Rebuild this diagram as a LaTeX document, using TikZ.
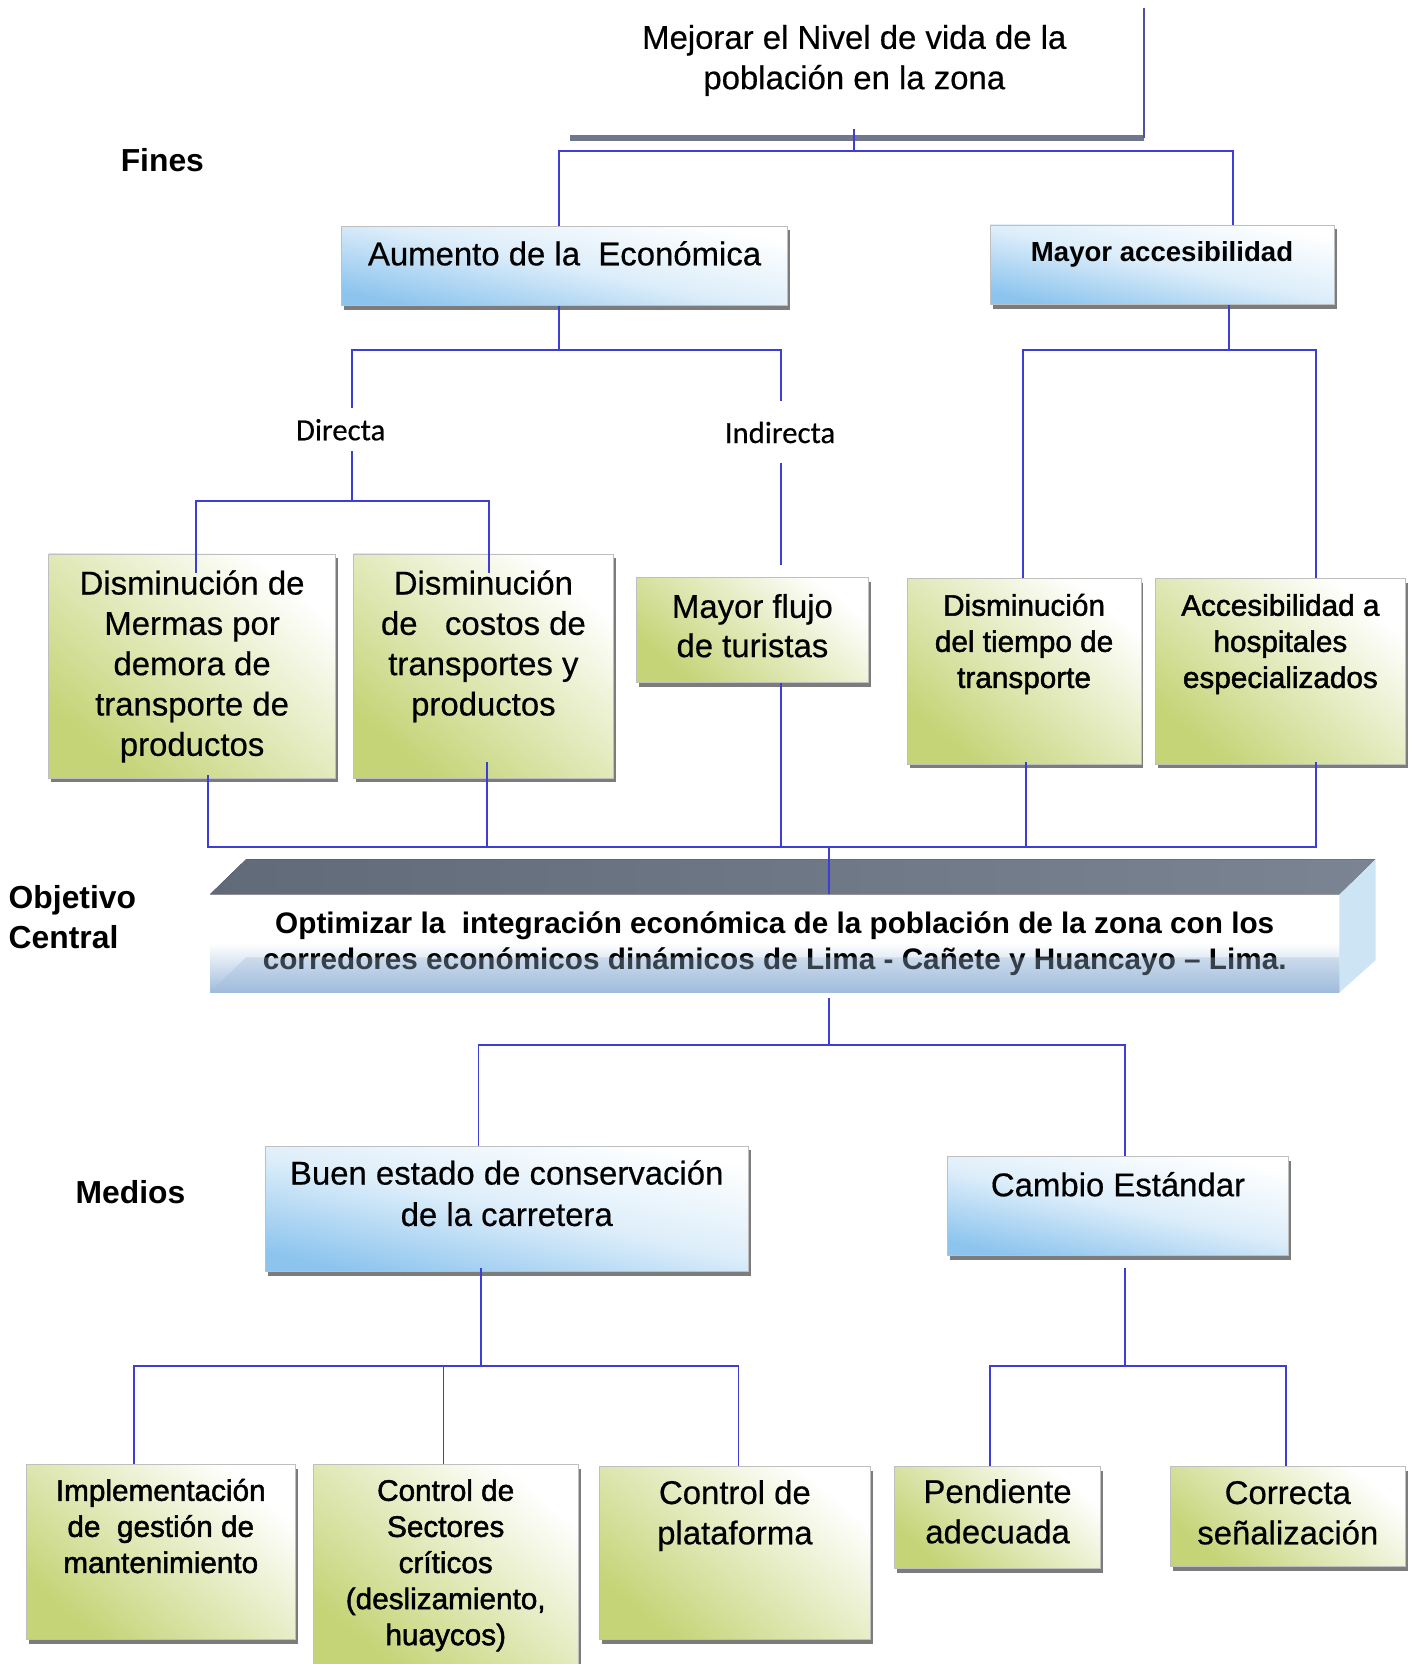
\documentclass[tikz,border=0pt]{standalone}
\usepackage{fontspec}
\setmainfont{Liberation Sans}
\newfontfamily\regf[FakeBold=0.5]{Liberation Sans}
\newfontfamily\semib[FakeBold=1.6]{Liberation Sans}
\newfontfamily\calib[FakeBold=0.4]{Carlito}
\usetikzlibrary{shadows}
\definecolor{conncol}{RGB}{62,62,215}
\definecolor{cBlue}{RGB}{140,196,238}
\definecolor{cGreen}{RGB}{196,212,118}
\definecolor{slabtopA}{RGB}{96,106,120}
\definecolor{slabtopB}{RGB}{122,132,146}
\definecolor{slabside}{RGB}{205,228,244}
\definecolor{slabfront}{RGB}{160,188,220}
\definecolor{barcol}{RGB}{112,118,140}
\newcommand{\bxt}[4]{\parbox[c][#1pt][t]{#2pt}{\centering\vspace*{#3pt}\strut #4}}
\tikzset{
  conn/.style={draw=conncol, line width=1.6pt},
  boxbase/.style={draw=black!25, line width=0.6pt, inner sep=0pt,
    drop shadow={shadow xshift=2.5pt, shadow yshift=-4pt, fill=black!60, opacity=0.85}},
  bbox/.style={boxbase, top color=white, bottom color=cBlue, middle color=white!70!cBlue, shading angle=-12},
  gbox/.style={boxbase, top color=white, bottom color=cGreen, shading angle=-40},
  fA/.style={font=\regf\fontsize{31}{38}\selectfont},
  fB/.style={font=\semib\fontsize{28}{34}\selectfont},
  lab/.style={font=\bfseries\fontsize{30}{38}\selectfont, inner sep=0pt},
  dlab/.style={font=\calib\fontsize{29}{32}\selectfont, inner sep=0pt},
}
\begin{document}
\begin{tikzpicture}[x=1pt,y=-1pt]
\useasboundingbox (0,0) rectangle (1331,1568);
\fill[white] (0,0) rectangle (1331,1568);

% top goal
\node[fA, align=center, inner sep=0pt] (fin) at (805,57) {Mejorar el Nivel de vida de la\\población en la zona};
\coordinate (barL) at (537,130);
\coordinate (barR) at (1078,130);
\coordinate (topR) at (1078,8);
\draw[line width=5pt, draw=barcol] (barL) -- (barR);
\draw[line width=1.6pt, draw={rgb,255:red,80;green,80;blue,165}] (topR) -- (barR);
\coordinate (tick) at (805,122);
\coordinate (j1) at (805,142);

% side labels
\node[lab] (lfines) at (153,151) {Fines};
\node[lab, anchor=west, align=left] (lobj) at (8,864) {Objetivo\\Central};
\node[lab] (lmed) at (123,1123) {Medios};

% level 1 boxes
\node[bbox, fA] (aum) at (532,250.5) {\bxt{75}{420}{10.4}{Aumento de la\ \ Económica}};
\node[bbox, font=\bfseries\fontsize{26}{32}\selectfont] (may) at (1095,249.5) {\bxt{75}{324}{12.2}{Mayor accesibilidad}};

\node[dlab, minimum height=40pt] (dir) at (321,405) {Directa};
\node[dlab, minimum height=58pt] (ind) at (735,407.5) {Indirecta};

% level 2 boxes
\node[gbox, fA] (b1) at (181,627.5) {\bxt{211}{270}{11.6}{Disminución de\\Mermas por\\demora de\\transporte de\\productos}};
\node[gbox, fA] (b2) at (455.5,627.5) {\bxt{211}{245}{11.6}{Disminución\\de\ \ \ costos de\\transportes y\\productos}};
\node[gbox, font=\regf\fontsize{31}{37}\selectfont] (b3) at (709,593.5) {\bxt{99}{218}{12.3}{Mayor flujo\\de turistas}};
\node[gbox, fB] (b4) at (965,632.5) {\bxt{175}{220}{11.4}{Disminución\\del tiempo de\\transporte}};
\node[gbox, fB] (b5) at (1206.5,632.5) {\bxt{175}{235}{11.4}{Accesibilidad a\\hospitales\\especializados}};

% central objective slab
\node[top color=white, bottom color=slabfront, middle color=white, inner sep=0pt,
      minimum width=1064pt, minimum height=92pt, align=center,
      font=\bfseries\fontsize{28}{34}\selectfont] (obj) at (730,889)
  {Optimizar la\ \ integración económica de la población de la zona con los\\corredores económicos dinámicos de Lima - Cañete y Huancayo – Lima.};
\fill[left color=slabtopA, right color=slabtopB] (obj.north west) -- ++(34,-33) -- ++(1064,0) -- (obj.north east) -- cycle;
\fill[slabside] (obj.north east) -- ++(34,-33) -- ++(0,95) -- (obj.south east) -- cycle;
\fill[slabfront, opacity=0.35] (obj.south west) -- ++(34,-33) -- ++(1030,0) -- (obj.south east) -- cycle;

% means
\node[bbox, font=\regf\fontsize{31}{39}\selectfont] (buen) at (477.5,1139) {\bxt{118}{455}{8.9}{Buen estado de conservación\\de la carretera}};
\node[bbox, fA] (cam) at (1053.5,1136.5) {\bxt{93}{321}{10.6}{Cambio Estándar}};

\node[gbox, fB] (c1) at (151.5,1462.5) {\bxt{165}{253}{10.4}{Implementación\\de\ \ gestión de\\mantenimiento}};
\node[gbox, fB] (c2) at (420,1474) {\bxt{188}{250}{10.4}{Control de\\Sectores\\críticos\\(deslizamiento,\\huaycos)}};
\node[gbox, fA] (c3) at (692.5,1463.5) {\bxt{163}{255}{8.6}{Control de\\plataforma}};
\node[gbox, fA] (c4) at (940,1430) {\bxt{96}{194}{7.6}{Pendiente\\adecuada}};
\node[gbox, fA] (c5) at (1213.5,1429) {\bxt{94}{221}{8.6}{Correcta\\señalización}};

% connectors: ends
\draw[conn] (tick) -- (j1);
\draw[conn] ([xshift=-5pt]aum.north) |- (j1) -| ([xshift=67pt]may.north);
\coordinate (j2) at (527,330);
\draw[conn] ([xshift=-5pt]aum.south) -- (j2);
\draw[conn] ([xshift=11pt]dir.north) |- (j2) -| ([xshift=1pt]ind.north);
\coordinate (j3) at (332,472);
\draw[conn] ([xshift=11pt]dir.south) -- (j3);
\draw[conn] ([xshift=4pt,yshift=-18pt]b1.north) |- (j3) -| ([xshift=5.5pt,yshift=-18pt]b2.north);
\draw[conn] ([xshift=1pt]ind.south) -- ([xshift=27pt,yshift=11pt]b3.north);
\coordinate (j4) at (1158,330);
\draw[conn] ([xshift=63pt]may.south) -- (j4);
\draw[conn] ([xshift=-1pt]b4.north) |- (j4) -| ([xshift=33.5pt]b5.north);

% connectors: up to objective
\coordinate (bus) at (781,798);
\draw[conn] ([xshift=15pt,yshift=3pt]b1.south) |- (bus) -- ([xshift=51pt]obj.north);
\draw[conn] ([xshift=33.5pt,yshift=2pt]b5.south) |- (bus);
\draw[conn] ([xshift=3.5pt,yshift=15pt]b2.south) |- (bus);
\draw[conn] ([xshift=27pt]b3.south) |- (bus);
\draw[conn] ([xshift=2pt,yshift=2pt]b4.south) |- (bus);

% connectors: means
\coordinate (bus2) at (781,985);
\draw[conn] ([xshift=51pt,yshift=-5pt]obj.south) -- (bus2);
\draw[conn] ([xshift=-26.5pt]buen.north) |- (bus2) -| ([xshift=6.5pt]cam.north);
\coordinate (bus3) at (453,1287);
\draw[conn] ([xshift=-24.5pt,yshift=3pt]buen.south) -- (bus3);
\draw[conn] ([xshift=-25.5pt]c1.north) |- (bus3) -| ([xshift=3.5pt]c3.north);
\draw[conn] ([xshift=-2pt]c2.north) |- (bus3);
\coordinate (bus4) at (1060,1287);
\draw[conn] ([xshift=6.5pt,yshift=-12pt]cam.south) -- (bus4);
\draw[conn] ([xshift=-7pt]c4.north) |- (bus4) -| ([xshift=-1.5pt]c5.north);
\end{tikzpicture}
\end{document}
